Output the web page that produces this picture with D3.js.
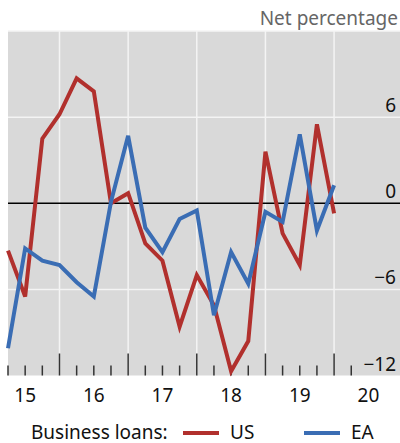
<!DOCTYPE html>
<html>
<head>
<meta charset="utf-8">
<script src="https://cdn.jsdelivr.net/npm/d3@7"></script>
<style>
  html, body { margin: 0; padding: 0; background: #fff; }
  svg { display: block; font-family: "Noto Sans", "Open Sans", sans-serif; }
</style>
</head>
<body>
<svg id="chart" width="400" height="443"></svg>
<script>
// Quarterly observations, 2015 Q1 .. 2019 Q4 (plotted at quarter end)
const quarters = ["2015Q1","2015Q2","2015Q3","2015Q4","2016Q1","2016Q2","2016Q3","2016Q4",
                  "2017Q1","2017Q2","2017Q3","2017Q4","2018Q1","2018Q2","2018Q3","2018Q4",
                  "2019Q1","2019Q2","2019Q3","2019Q4"];
const usLoans = [-3.3, -6.5, 4.5, 6.2, 8.7, 7.8, 0.0, 0.7, -2.8, -4.0, -8.6, -5.0, -7.1, -11.7, -9.6, 3.6, -2.1, -4.3, 5.5, -0.7];
const eaLoans = [-10.1, -3.15, -4.0, -4.3, -5.5, -6.5, 0.1, 4.7, -1.7, -3.4, -1.1, -0.5, -7.8, -3.4, -5.6, -0.6, -1.3, 4.8, -1.9, 1.25];
const yTicks = [6, 0, -6, -12];
const xYearLabels = ["15", "16", "17", "18", "19", "20"];
const yearStarts = [2015, 2016, 2017, 2018, 2019, 2020];

(function () {
const svg = d3.select("#chart");
const pLeft = 8, pRight = 400, pTop = 31, pBottom = 375.5;

function qPos(q) {
  const yr = +q.slice(0, 4), k = +q.slice(5);
  return yr + k * 0.25;
}

const x = d3.scaleLinear().domain([2015.25, 2015.25 + (pRight - pLeft) / 68.65]).range([pLeft, pRight]);
const y = d3.scaleLinear().domain([-12, 12]).range([pBottom, pTop]);

// background
svg.append("rect").attr("x", pLeft).attr("y", pTop).attr("width", pRight - pLeft).attr("height", pBottom - pTop).attr("fill", "#d9d9d9");

// horizontal grid
svg.append("g").selectAll("line").data([12, 6, -6]).join("line")
  .attr("x1", pLeft).attr("x2", pRight)
  .attr("y1", d => y(d)).attr("y2", d => y(d))
  .attr("stroke", "#f4f4f4").attr("stroke-width", 1.5);

// vertical grid at year boundaries
svg.append("g").selectAll("line").data([2016, 2017, 2018, 2019, 2020]).join("line")
  .attr("x1", d => x(d)).attr("x2", d => x(d))
  .attr("y1", pTop).attr("y2", pBottom)
  .attr("stroke", "#f4f4f4").attr("stroke-width", 1.5);

// zero line
svg.append("line").attr("x1", pLeft).attr("x2", pRight).attr("y1", y(0)).attr("y2", y(0))
  .attr("stroke", "#000").attr("stroke-width", 1.5);

// ticks (inward from bottom)
const quarterTicks = d3.range(2015.25, 2020.3, 0.25);
svg.append("g").selectAll("line").data(quarterTicks).join("line")
  .attr("x1", d => x(d)).attr("x2", d => x(d))
  .attr("y1", pBottom)
  .attr("y2", d => Math.abs(d - Math.round(d)) < 1e-6 ? pBottom - 22 : pBottom - 10)
  .attr("stroke", "#333").attr("stroke-width", 1.5);

// lines
const line = d3.line().x((d, i) => x(qPos(quarters[i]))).y(d => y(d));
svg.append("path").datum(usLoans).attr("d", line).attr("fill", "none")
  .attr("stroke", "#b1302d").attr("stroke-width", 4).attr("stroke-linejoin", "miter");
svg.append("path").datum(eaLoans).attr("d", line).attr("fill", "none")
  .attr("stroke", "#3a6db4").attr("stroke-width", 4).attr("stroke-linejoin", "miter");

// y tick labels (right, inside)
svg.append("g").selectAll("text").data(yTicks).join("text")
  .attr("x", 396).attr("y", d => y(d) - 5)
  .attr("text-anchor", "end").attr("font-size", 19).attr("fill", "#111")
  .text(d => d < 0 ? "\u2212" + Math.abs(d) : d);

// x labels (centred in year)
svg.append("g").selectAll("text").data(yearStarts).join("text")
  .attr("x", d => x(d + 0.5)).attr("y", 402)
  .attr("text-anchor", "middle").attr("font-size", 19).attr("fill", "#111")
  .text((d, i) => xYearLabels[i]);

// unit label
svg.append("text").attr("x", 398).attr("y", 25).attr("text-anchor", "end")
  .attr("font-size", 19).attr("fill", "#666").text("Net percentage");

// legend
const lg = svg.append("g");
lg.append("text").attr("x", 31).attr("y", 438.5).attr("font-size", 19).attr("fill", "#111").text("Business loans:");
lg.append("line").attr("x1", 183).attr("x2", 219).attr("y1", 433).attr("y2", 433).attr("stroke", "#b1302d").attr("stroke-width", 4);
lg.append("text").attr("x", 230).attr("y", 438.5).attr("font-size", 19).attr("fill", "#111").text("US");
lg.append("line").attr("x1", 304).attr("x2", 340).attr("y1", 433).attr("y2", 433).attr("stroke", "#3a6db4").attr("stroke-width", 4);
lg.append("text").attr("x", 351).attr("y", 438.5).attr("font-size", 19).attr("fill", "#111").text("EA");
})();
</script>
</body>
</html>
